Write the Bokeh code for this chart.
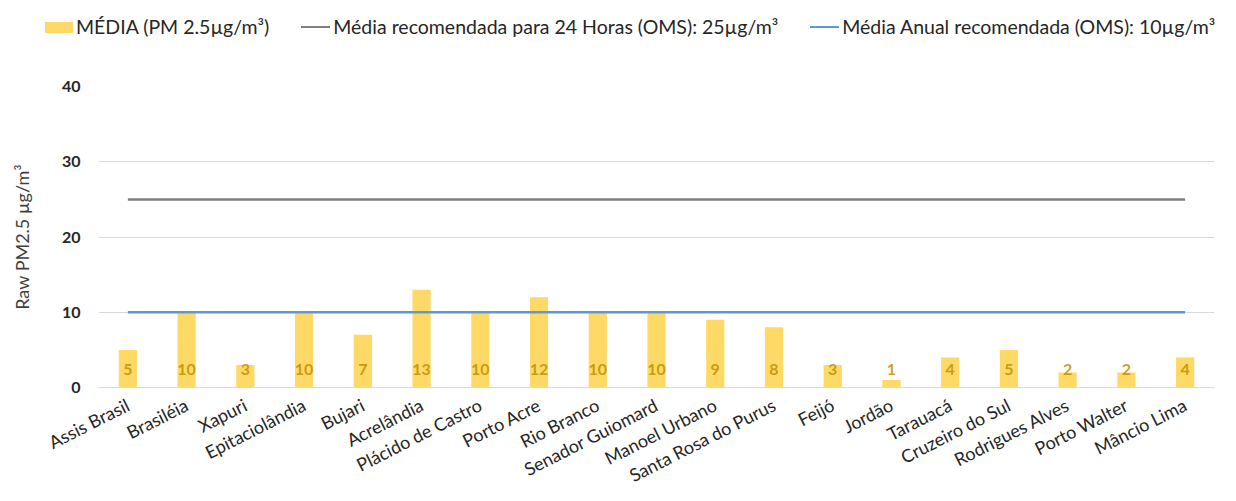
from bokeh.plotting import figure
from bokeh.layouts import column
from bokeh.models import ColumnDataSource, LabelSet, FixedTicker, FactorRange, Range1d, Div
from bokeh.core.properties import value
from bokeh.embed import file_html
from bokeh.resources import INLINE

cities = ["Assis Brasil", "Brasiléia", "Xapuri", "Epitaciolândia", "Bujari", "Acrelândia",
          "Plácido de Castro", "Porto Acre", "Rio Branco", "Senador Guiomard", "Manoel Urbano",
          "Santa Rosa do Purus", "Feijó", "Jordão", "Tarauacá", "Cruzeiro do Sul",
          "Rodrigues Alves", "Porto Walter", "Mâncio Lima"]
media = [5, 10, 3, 10, 7, 13, 10, 12, 10, 10, 9, 8, 3, 1, 4, 5, 2, 2, 4]
oms_24h = [25] * len(cities)
oms_anual = [10] * len(cities)
y_ticks = [0, 10, 20, 30, 40]
legend_labels = ["MÉDIA (PM 2.5µg/m³)",
                 "Média recomendada para 24 Horas (OMS): 25µg/m³",
                 "Média Anual recomendada (OMS): 10µg/m³"]

FONT = "Lato"
BAR = "#FFD966"
GRAY = "#7F7F7F"
BLUE = "#5B9BD5"

src = ColumnDataSource(dict(x=cities, media=media, lbl=[str(v) for v in media],
                            h24=oms_24h, anual=oms_anual))

# ---- legend (HTML strip above the chart) ----
swatches = [
    f"display:inline-block;width:28px;height:11px;background:{BAR};",
    f"display:inline-block;width:29px;height:2.5px;background:{GRAY};",
    f"display:inline-block;width:29px;height:2.5px;background:{BLUE};",
]
parts = []
for i, (sw, lab) in enumerate(zip(swatches, legend_labels)):
    gap = "0" if i == 0 else "32px"
    parts.append(f'<span style="{sw}margin-left:{gap};margin-right:3px;"></span>'
                 f'<span>{lab}</span>')
legend_html = (f'<div style="display:flex;align-items:center;height:22px;margin-top:16px;'
               f'margin-left:45px;white-space:nowrap;font-family:{FONT};font-size:19.5px;'
               f'color:#262626;">' + "".join(parts) + "</div>")
legend_div = Div(text=legend_html, width=1220, height=46, margin=0)

# ---- main chart ----
p = figure(width=1220, height=455, x_range=FactorRange(*cities), y_range=Range1d(0, 40),
           output_backend="svg", toolbar_location=None, tools="",
           min_border_left=98, min_border_right=6, min_border_top=40, min_border_bottom=114)
p.outline_line_color = None
p.background_fill_color = "white"
p.border_fill_color = "white"

p.vbar(x="x", top="media", width=0.31, source=src, fill_color=BAR, line_color=None)
p.line(x="x", y="h24", source=src, line_color=GRAY, line_width=2.5)
p.line(x="x", y="anual", source=src, line_color=BLUE, line_width=2.5)

labels = LabelSet(x="x", y=0, text="lbl", source=src, y_offset=18, text_align="center",
                  text_baseline="middle", text_font=value(FONT), text_font_size="16px",
                  text_font_style="bold", text_color="#BF9000", text_alpha=0.85)
p.add_layout(labels)

p.xgrid.grid_line_color = None
p.ygrid.grid_line_color = "#D9D9D9"
p.ygrid.grid_line_width = 1

p.yaxis.ticker = FixedTicker(ticks=y_ticks)
p.yaxis.axis_line_color = None
p.yaxis.major_tick_line_color = None
p.yaxis.minor_tick_line_color = None
p.yaxis.major_label_text_font = FONT
p.yaxis.major_label_text_font_size = "16px"
p.yaxis.major_label_text_font_style = "bold"
p.yaxis.major_label_text_color = "#262626"
p.yaxis.major_label_standoff = 12
p.yaxis.axis_label = "Raw PM2.5 µg/m³"
p.yaxis.axis_label_text_font = FONT
p.yaxis.axis_label_text_font_size = "18px"
p.yaxis.axis_label_text_font_style = "normal"
p.yaxis.axis_label_text_color = "#404040"
p.yaxis.axis_label_standoff = 26

p.xaxis.axis_line_color = "#D9D9D9"
p.xaxis.major_tick_line_color = None
p.xaxis.minor_tick_line_color = None
p.xaxis.major_label_orientation = 0.47
p.xaxis.major_label_text_font = FONT
p.xaxis.major_label_text_font_size = "18px"
p.xaxis.major_label_text_color = "#262626"
p.xaxis.major_label_standoff = 10

open("out.html", "w").write(file_html(column(legend_div, p, spacing=0), INLINE))
